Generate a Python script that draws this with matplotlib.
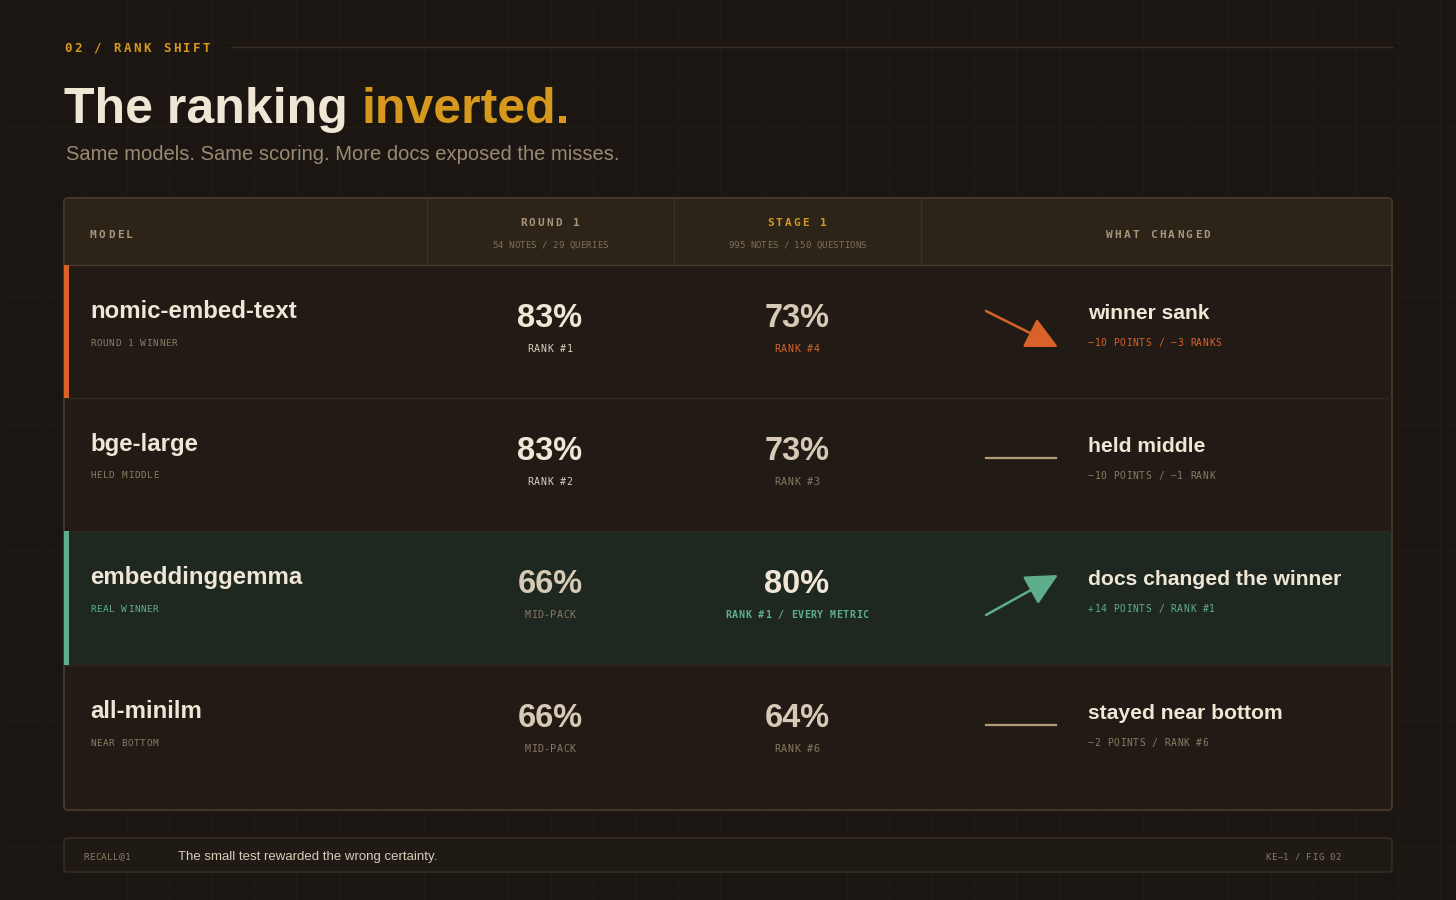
import numpy as np
import matplotlib.pyplot as plt
from matplotlib.patches import Rectangle, FancyBboxPatch

# dados da tabela
models = ["nomic-embed-text", "bge-large", "embeddinggemma", "all-minilm"]
model_notes = ["ROUND 1 WINNER", "HELD MIDDLE", "REAL WINNER", "NEAR BOTTOM"]
round1_pct = [83, 83, 66, 66]
round1_rank = ["RANK #1", "RANK #2", "MID-PACK", "MID-PACK"]
stage1_pct = [73, 73, 80, 64]
stage1_rank = ["RANK #4", "RANK #3", "RANK #1 / EVERY METRIC", "RANK #6"]
change_title = ["winner sank", "held middle", "docs changed the winner", "stayed near bottom"]
change_detail = ["\u221210 POINTS / \u22123 RANKS", "\u221210 POINTS / \u22121 RANK",
                 "+14 POINTS / RANK #1", "\u22122 POINTS / RANK #6"]
trend = ["down", "flat", "up", "flat"]
tone = ["loss", "neutral", "win", "neutral"]

header_cols = ["ROUND 1", "STAGE 1"]
header_subs = ["54 NOTES / 29 QUERIES", "995 NOTES / 150 QUESTIONS"]

# cores
BG = "#1b1612"
GRID = "#211b16"
HEAD = "#2c2419"
ROW = "#221b15"
ROW_WIN = "#1f2820"
BORDER = "#4a3d2b"
CREAM = "#efe6d6"
CREAM2 = "#d6cab6"
MUTED = "#8a7a64"
LABEL = "#a8957a"
GOLD = "#d6981d"
ORANGE = "#d9622b"
GREEN = "#5fae8b"
tone_color = {"loss": ORANGE, "win": GREEN, "neutral": MUTED}

SANS = "Liberation Sans"
MONO = "DejaVu Sans Mono"

W, H = 1456, 900
fig = plt.figure(figsize=(W / 100, H / 100), dpi=100, facecolor=BG)
ax = fig.add_axes([0, 0, 1, 1])
ax.set_xlim(0, W)
ax.set_ylim(H, 0)
ax.axis("off")
ax.set_facecolor(BG)

# grade de fundo
step = 42.35
ax.vlines(np.arange(step, W, step), 0, H, color=GRID, lw=0.8, zorder=0)
ax.hlines(np.arange(step, H, step), 0, W, color=GRID, lw=0.8, zorder=0)


def mono(x, y, s, size, color, track=0.0, ha="left", weight="normal"):
    # texto monoespaçado com espaçamento entre letras
    px = size / 72 * 100
    adv = 0.602 * px + track
    total = adv * len(s) - track
    if ha == "center":
        x0 = x - total / 2
    elif ha == "right":
        x0 = x - total
    else:
        x0 = x
    for i, ch in enumerate(s):
        ax.text(x0 + i * adv, y, ch, fontsize=size, color=color, family=MONO,
                weight=weight, ha="left", va="center", zorder=5)


# cabeçalho da figura
mono(64, 48, "02 / RANK SHIFT", 9, GOLD, track=2.4, weight="bold")
ax.plot([232, 1392], [47, 47], color="#3a3025", lw=1, zorder=1)

t = ax.text(64, 123, "The ranking", fontsize=36, color=CREAM, family=SANS,
            weight="bold", va="baseline", zorder=5)
ax.annotate("inverted.", xy=(1, 0), xycoords=t, xytext=(14, 0), textcoords="offset pixels",
            fontsize=36, color=GOLD, family=SANS, weight="bold", va="bottom", zorder=5)
ax.text(66, 160, "Same models. Same scoring. More docs exposed the misses.", fontsize=14.5,
        color="#9a8a73", family=SANS, va="baseline", zorder=5)

# tabela
tx0, tx1 = 64, 1392
ty0, head_h = 198, 67
row_tops = [265, 398, 531, 665]
ty1 = 810
col_x = [427, 674, 921]
col_centers = [550, 797]

box = FancyBboxPatch((tx0, ty0), tx1 - tx0, ty1 - ty0, boxstyle="round,pad=0,rounding_size=4",
                     fc=ROW, ec=BORDER, lw=1.2, zorder=1)
ax.add_patch(box)
ax.add_patch(Rectangle((tx0 + 1, ty0 + 1), tx1 - tx0 - 2, head_h - 1, fc=HEAD, ec="none", zorder=1.5))
ax.plot([tx0, tx1], [ty0 + head_h, ty0 + head_h], color=BORDER, lw=1, zorder=2)
for cx in col_x:
    ax.plot([cx, cx], [ty0 + 1, ty0 + head_h], color="#3b3124", lw=1, zorder=2)

mono(90, 235, "MODEL", 8, LABEL, track=2.2, weight="bold")
for i, (lab, sub) in enumerate(zip(header_cols, header_subs)):
    c = GOLD if i == 1 else LABEL
    mono(col_centers[i], 223, lab, 8, c, track=2.2, ha="center", weight="bold")
    mono(col_centers[i], 245, sub, 6.6, "#7d6e5a", ha="center")
mono(1158, 235, "WHAT CHANGED", 8, LABEL, track=2.2, ha="center", weight="bold")

r1_max = max(round1_pct)
s1_max = max(stage1_pct)
bottoms = row_tops[1:] + [ty1]
for i, top in enumerate(row_tops):
    bot = bottoms[i]
    if tone[i] == "win":
        ax.add_patch(Rectangle((tx0 + 1, top), tx1 - tx0 - 2, bot - top, fc=ROW_WIN, ec="none", zorder=1.5))
    if i > 0:
        ax.plot([tx0, tx1], [top, top], color="#30271d", lw=1, zorder=2)
    if tone[i] != "neutral":
        ax.add_patch(Rectangle((tx0, top), 5, bot - top, fc=tone_color[tone[i]], ec="none", zorder=3))

    # modelo
    ax.text(90, top + 53, models[i], fontsize=17.3, color=CREAM, family=SANS, weight="bold",
            va="baseline", zorder=5)
    note_c = GREEN if tone[i] == "win" else MUTED
    mono(90, top + 78, model_notes[i], 6.8, note_c, track=0.6)

    # round 1
    c = CREAM if round1_pct[i] == r1_max else CREAM2
    ax.text(col_centers[0], top + 62, f"{round1_pct[i]}%", fontsize=23.5, color=c, family=SANS,
            weight="bold", ha="center", va="baseline", zorder=5)
    rc = "#d8cdbb" if round1_pct[i] == r1_max else MUTED
    mono(col_centers[0], top + 84, round1_rank[i], 7.2, rc, track=0.5, ha="center")

    # stage 1
    c = CREAM if stage1_pct[i] == s1_max else CREAM2
    ax.text(col_centers[1], top + 62, f"{stage1_pct[i]}%", fontsize=23.5, color=c, family=SANS,
            weight="bold", ha="center", va="baseline", zorder=5)
    if tone[i] != "neutral":
        rc = tone_color[tone[i]]
    else:
        rc = MUTED
    mono(col_centers[1], top + 84, stage1_rank[i], 7.2, rc, track=0.5, ha="center",
         weight="bold" if tone[i] == "win" else "normal")

    # seta
    mid = top + 64
    if trend[i] == "flat":
        ax.plot([986, 1056], [top + 60, top + 60], color="#b59b78", lw=1.6, zorder=4)
    else:
        dy = 18 if trend[i] == "down" else -20
        ax.annotate("", xy=(1058, mid + dy), xytext=(986, mid - dy),
                    arrowprops=dict(arrowstyle="-|>,head_length=0.9,head_width=0.45",
                                    color=tone_color[tone[i]], lw=1.8, mutation_scale=22,
                                    shrinkA=0, shrinkB=0), zorder=4)

    # o que mudou
    ax.text(1088, top + 54, change_title[i], fontsize=15.2, color=CREAM, family=SANS,
            weight="bold", va="baseline", zorder=5)
    mono(1088, top + 78, change_detail[i], 6.9, tone_color[tone[i]], track=0.6)

# rodapé
foot = FancyBboxPatch((64, 838), 1328, 34, boxstyle="round,pad=0,rounding_size=3",
                      fc="#201a14", ec="#3a3024", lw=1, zorder=1)
ax.add_patch(foot)
mono(83, 857, "RECALL@1", 6.8, MUTED, track=0.3)
ax.text(178, 857, "The small test rewarded the wrong certainty.", fontsize=9.5, color="#d8cdbb",
        family=SANS, va="center", zorder=5)
mono(1341, 857, "KE\u22121 / FIG 02", 6.5, MUTED, track=0.4, ha="right")

plt.savefig("out.png", dpi=100, facecolor=BG)
